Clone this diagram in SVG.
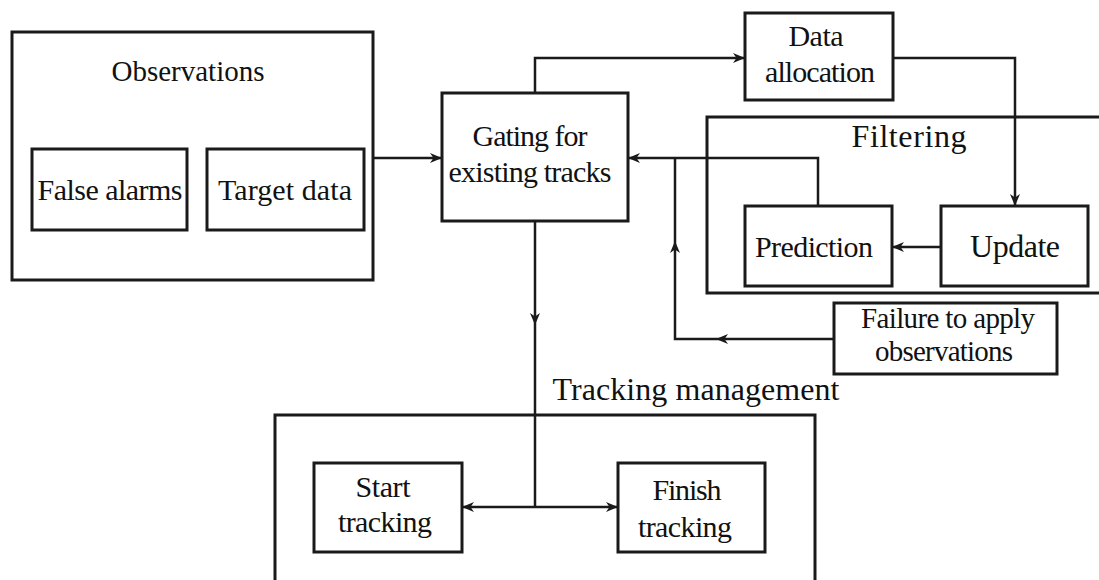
<svg xmlns="http://www.w3.org/2000/svg" width="1099" height="580" viewBox="0 0 1099 580">
  <style>
    .box { fill: #ffffff; stroke: #1a1a1a; stroke-width: 3; }
    .frame { fill: none; stroke: #1a1a1a; stroke-width: 3; }
    .wire { fill: none; stroke: #1a1a1a; stroke-width: 2.5; }
    .lbl { font-family: "Liberation Serif", "Times New Roman", serif; fill: #111111; text-anchor: middle; }
    .s27 { font-size: 29px; }
    .s28 { font-size: 30px; }
    .s30 { font-size: 32px; }
  </style>
  <defs>
    <marker id="arrow" viewBox="0 0 12 10" refX="11" refY="5" markerWidth="12" markerHeight="10" markerUnits="userSpaceOnUse" orient="auto">
      <path d="M0,0 L12,5 L0,10 L3.5,5 z" fill="#1a1a1a"/>
    </marker>
  </defs>

  <rect width="1099" height="580" fill="#ffffff"/>

  <!-- container frames -->
  <g id="observations">
    <rect class="frame" x="12" y="32" width="361" height="248"/>
    <text class="lbl s27" x="188" y="81" textLength="153" lengthAdjust="spacing">Observations</text>
  </g>
  <g id="filtering">
    <rect class="frame" x="707" y="117" width="420" height="176"/>
    <text class="lbl s30" x="909" y="147" textLength="115" lengthAdjust="spacing">Filtering</text>
  </g>
  <g id="tracking-management">
    <rect class="frame" x="275" y="415" width="540" height="200"/>
    <text class="lbl s30" x="696" y="400" textLength="287" lengthAdjust="spacing">Tracking management</text>
  </g>

  <!-- connectors -->
  <g id="connectors">
    <path class="wire" d="M373,158 H441" marker-end="url(#arrow)"/>
    <path class="wire" d="M535,93 V58 H744" marker-end="url(#arrow)"/>
    <path class="wire" d="M893,58 H1015 V205" marker-end="url(#arrow)"/>
    <path class="wire" d="M941,247 H893" marker-end="url(#arrow)"/>
    <path class="wire" d="M818,206 V158 H629" marker-end="url(#arrow)"/>
    <path class="wire" d="M834,339 H717" marker-end="url(#arrow)"/>
    <path class="wire" d="M717,339 H675 V242" marker-end="url(#arrow)"/>
    <path class="wire" d="M675,242 V158"/>
    <path class="wire" d="M535,221 V324" marker-end="url(#arrow)"/>
    <path class="wire" d="M535,324 V507"/>
    <path class="wire" d="M535,507 H463" marker-end="url(#arrow)"/>
    <path class="wire" d="M535,507 H617" marker-end="url(#arrow)"/>
  </g>

  <!-- nodes -->
  <g id="false-alarms">
    <rect class="box" x="32" y="149" width="155" height="81"/>
    <text class="lbl s28" x="110" y="200" textLength="145" lengthAdjust="spacing">False alarms</text>
  </g>
  <g id="target-data">
    <rect class="box" x="207" y="149" width="157" height="81"/>
    <text class="lbl s28" x="285" y="200" textLength="134" lengthAdjust="spacing">Target data</text>
  </g>
  <g id="gating">
    <rect class="box" x="442" y="93" width="186" height="128"/>
    <text class="lbl s28" x="530" y="146" textLength="115" lengthAdjust="spacing">Gating for</text>
    <text class="lbl s28" x="530" y="182" textLength="163" lengthAdjust="spacing">existing tracks</text>
  </g>
  <g id="data-allocation">
    <rect class="box" x="745" y="13" width="148" height="87"/>
    <text class="lbl s28" x="816" y="46" textLength="55" lengthAdjust="spacing">Data</text>
    <text class="lbl s28" x="820" y="82" textLength="110" lengthAdjust="spacing">allocation</text>
  </g>
  <g id="prediction">
    <rect class="box" x="745" y="206" width="147" height="80"/>
    <text class="lbl s28" x="814" y="257" textLength="118" lengthAdjust="spacing">Prediction</text>
  </g>
  <g id="update">
    <rect class="box" x="941" y="206" width="147" height="80"/>
    <text class="lbl s30" x="1015" y="257" textLength="90" lengthAdjust="spacing">Update</text>
  </g>
  <g id="failure">
    <rect class="box" x="834" y="303" width="223" height="71"/>
    <text class="lbl s27" x="948" y="328" textLength="174" lengthAdjust="spacing">Failure to apply</text>
    <text class="lbl s27" x="944" y="361" textLength="138" lengthAdjust="spacing">observations</text>
  </g>
  <g id="start-tracking">
    <rect class="box" x="314" y="463" width="148" height="89"/>
    <text class="lbl s28" x="383" y="497" textLength="55" lengthAdjust="spacing">Start</text>
    <text class="lbl s28" x="385" y="532" textLength="94" lengthAdjust="spacing">tracking</text>
  </g>
  <g id="finish-tracking">
    <rect class="box" x="618" y="463" width="147" height="89"/>
    <text class="lbl s28" x="687" y="500" textLength="69" lengthAdjust="spacing">Finish</text>
    <text class="lbl s28" x="685" y="537" textLength="94" lengthAdjust="spacing">tracking</text>
  </g>
</svg>
